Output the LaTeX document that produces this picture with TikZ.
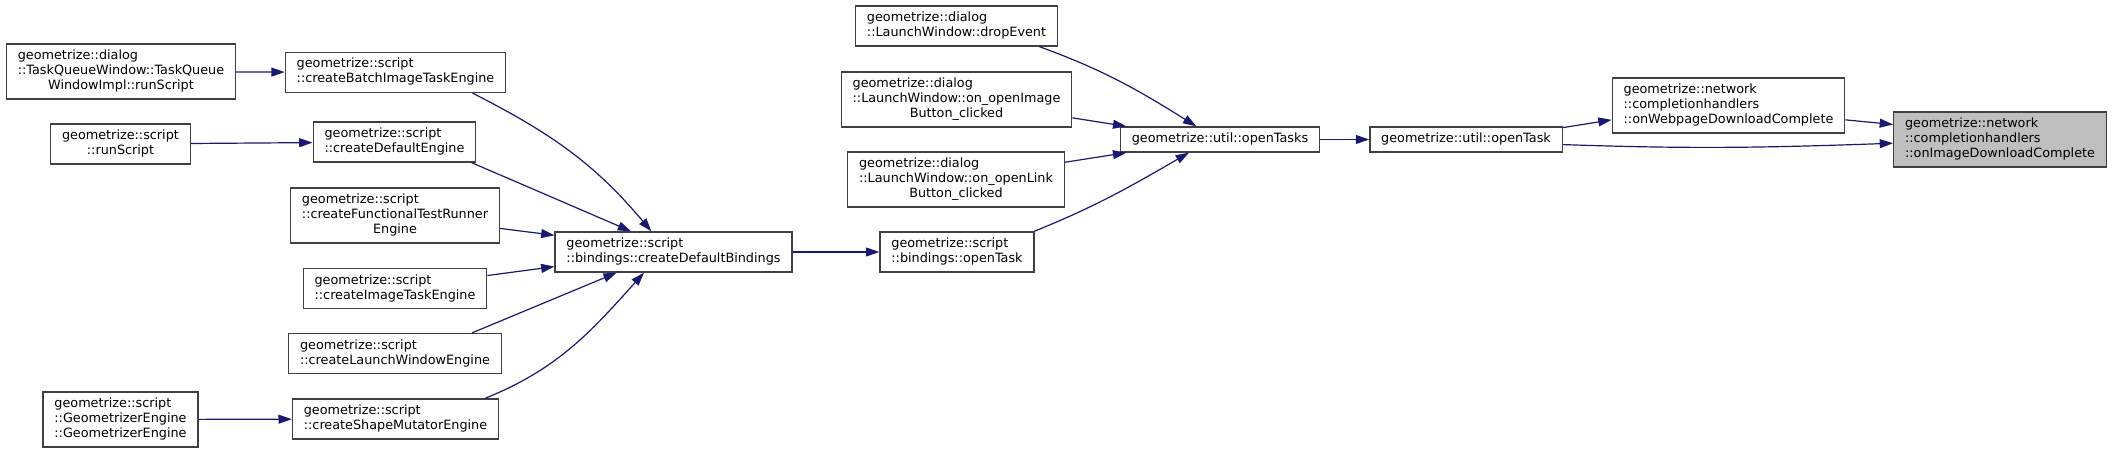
\documentclass[tikz,border=0pt]{standalone}
\usepackage{fontspec}
\setmainfont{DejaVu Sans}
\usetikzlibrary{arrows.meta}
\definecolor{edgeblue}{HTML}{191970}
\definecolor{boxline}{HTML}{404040}
\definecolor{boxgrey}{HTML}{BFBFBF}
\newcommand{\fn}[1]{\begin{tabular}{@{}l@{}}#1\end{tabular}}
\newcommand{\fnc}[1]{\begin{tabular}{@{}c@{}}#1\end{tabular}}
\newcommand{\lastln}[1]{\multicolumn{1}{@{}c@{}}{#1}}
\begin{document}
\begin{tikzpicture}[x=0.75pt,y=-0.75pt,
  fnbox/.style={draw=boxline,line width=1pt,fill=white,inner xsep=8.5pt,inner ysep=3.75pt,
    font=\fontsize{9.6}{11.25}\selectfont},
  target/.style={fnbox,fill=boxgrey},
  call/.style={draw=edgeblue,line width=0.9pt,-{Triangle[length=10pt,width=6.7pt]}}]
\useasboundingbox (0,0) rectangle (2115,453);
\node[fnbox] (tq) at (121,71.5) {\fn{geometrize::dialog\\::TaskQueueWindow::TaskQueue\\\lastln{WindowImpl::runScript}}};
\node[fnbox] (runs) at (120.5,144) {\fnc{geometrize::script\\::runScript}};
\node[fnbox] (geomeng) at (120.5,419.5) {\fn{geometrize::script\\::GeometrizerEngine\\::GeometrizerEngine}};
\node[fnbox] (batch) at (395.5,72.5) {\fn{geometrize::script\\::createBatchImageTaskEngine}};
\node[fnbox] (defeng) at (394.5,142) {\fn{geometrize::script\\::createDefaultEngine}};
\node[fnbox] (functest) at (395,215.5) {\fn{geometrize::script\\::createFunctionalTestRunner\\\lastln{Engine}}};
\node[fnbox] (imgtask) at (395,288.5) {\fn{geometrize::script\\::createImageTaskEngine}};
\node[fnbox] (launcheng) at (395,353.5) {\fn{geometrize::script\\::createLaunchWindowEngine}};
\node[fnbox] (shapemut) at (395.5,419) {\fn{geometrize::script\\::createShapeMutatorEngine}};
\node[fnbox] (defbind) at (673.5,252) {\fn{geometrize::script\\::bindings::createDefaultBindings}};
\node[fnbox] (bopentask) at (957,252) {\fn{geometrize::script\\::bindings::openTask}};
\node[fnbox] (drop) at (956.5,26) {\fn{geometrize::dialog\\::LaunchWindow::dropEvent}};
\node[fnbox] (openimg) at (956.5,99.5) {\fn{geometrize::dialog\\::LaunchWindow::on\_openImage\\\lastln{Button\_clicked}}};
\node[fnbox] (openlink) at (956,179.5) {\fn{geometrize::dialog\\::LaunchWindow::on\_openLink\\\lastln{Button\_clicked}}};
\node[fnbox] (opentasks) at (1220,139.5) {\fn{geometrize::util::openTasks}};
\node[fnbox] (opentask) at (1466,139.5) {\fn{geometrize::util::openTask}};
\node[fnbox] (webpage) at (1728.5,105.5) {\fn{geometrize::network\\::completionhandlers\\::onWebpageDownloadComplete}};
\node[target] (imgdl) at (2000,139.5) {\fn{geometrize::network\\::completionhandlers\\::onImageDownloadComplete}};
\draw[call] (tq) -- (batch);
\draw[call] (runs) -- (defeng);
\draw[call] (geomeng) -- (shapemut);
\draw[call] (batch.-15) to[out=-27,in=130] (defbind.137);
\foreach \src/\a/\b in {defeng/-15/154, functest/-7/172, imgtask/8/187, launcheng/15/200}{
    \draw[call] (\src.\a) -- (defbind.\b);
}
\draw[call] (shapemut.13) to[out=22,in=228] (defbind.215);
\draw[call] (defbind) -- (bopentask);
\draw[call] (bopentask.15) to[out=22,in=210] (opentasks.203);
\draw[call] (drop.-14) to[out=-20,in=148] (opentasks.151);
\draw[call] (openimg.-9) -- (opentasks.172);
\draw[call] (openlink.9) -- (opentasks.188);
\draw[call] (opentasks) -- (opentask);
\draw[call] (opentask.7) -- (webpage.187);
\draw[call] (opentask.-3) to[out=-2,in=182] (imgdl.182);
\draw[call] (webpage.-7) -- (imgdl.172);
\end{tikzpicture}
\end{document}
